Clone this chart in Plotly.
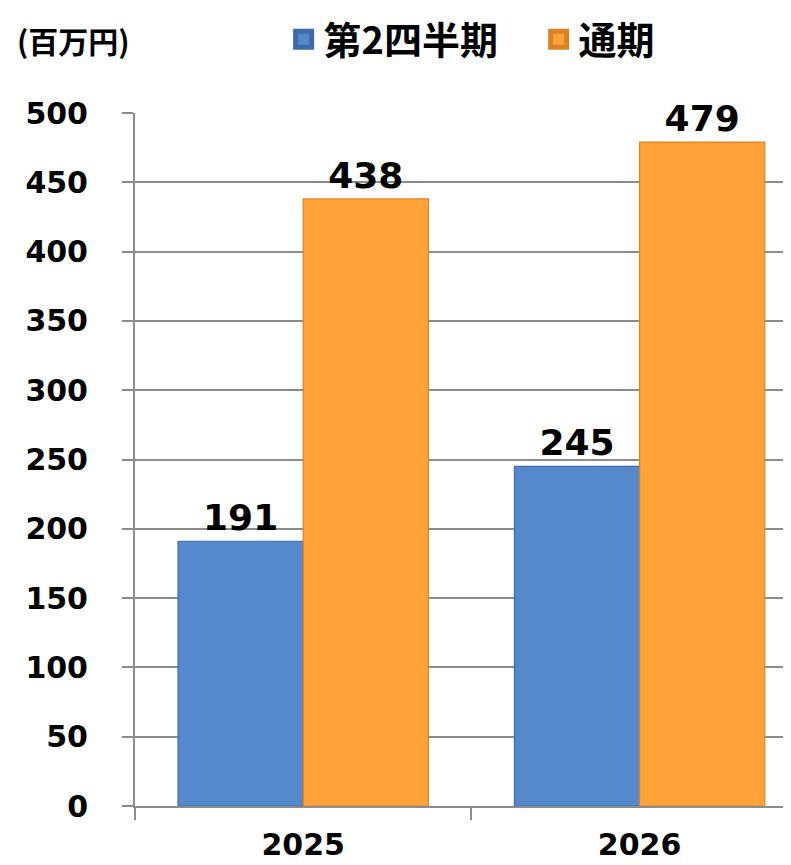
import plotly.graph_objects as go

categories = ["2025", "2026"]
series_names = ["第2四半期", "通期"]
q2_values = [191, 245]
full_values = [438, 479]
y_ticks = [0, 50, 100, 150, 200, 250, 300, 350, 400, 450, 500]
unit_label = "(百万円)"

blue = "#5589CC"
blue_edge = "#3F6AA8"
orange = "#FFA23A"
orange_edge = "#D98326"
grid = "#8C8C8C"

fig = go.Figure()
for name, vals, col, edge in [(series_names[0], q2_values, blue, blue_edge),
                              (series_names[1], full_values, orange, orange_edge)]:
    fig.add_trace(go.Bar(
        x=categories, y=vals, name=name, showlegend=False,
        marker=dict(color=col, line=dict(color=edge, width=1.2)),
        text=[str(v) for v in vals], textposition="outside",
        textfont=dict(family="DejaVu Sans", size=36, color="black", weight="bold"),
        cliponaxis=False,
    ))
    fig.add_trace(go.Scatter(
        x=[None], y=[None], mode="markers", name=name, showlegend=True,
        marker=dict(symbol="square", size=16, color=col, line=dict(color=edge, width=5)),
    ))

fig.update_layout(
    width=783, height=857,
    margin=dict(l=127, r=0, t=105, b=59),
    paper_bgcolor="white", plot_bgcolor="white",
    barmode="group", bargap=0.256, bargroupgap=0,
    showlegend=True,
    legend=dict(orientation="h", xref="container", yref="container",
                x=0.352, y=1.0, xanchor="left", yanchor="top",
                entrywidth=210, entrywidthmode="pixels",
                font=dict(family="Noto Sans CJK JP", size=38, color="black", weight="bold"),
                itemsizing="trace", bgcolor="rgba(0,0,0,0)"),
    xaxis=dict(type="category", range=[-0.5, 1.45], tickson="boundaries",
               ticks="outside", ticklen=12, tickcolor=grid, tickwidth=2,
               showline=True, linecolor=grid, linewidth=2, showgrid=False,
               tickfont=dict(family="DejaVu Sans", size=30, color="black", weight="bold"),
               ticklabelstandoff=11),
    yaxis=dict(range=[0, 500], tickvals=y_ticks, ticktext=[str(v) for v in y_ticks],
               ticks="outside", ticklen=11, tickcolor=grid, tickwidth=2,
               showline=True, linecolor=grid, linewidth=2,
               showgrid=True, gridcolor=grid, gridwidth=2, zeroline=False,
               tickfont=dict(family="DejaVu Sans", size=30, color="black", weight="bold"),
               ticklabelstandoff=28),
    annotations=[dict(text=unit_label, xref="paper", yref="paper",
                      x=-0.183, y=1.106, xanchor="left", yanchor="middle",
                      showarrow=False,
                      font=dict(family="Noto Sans CJK JP", size=30, color="black", weight="bold"))],
)

fig.write_html("out.html")
